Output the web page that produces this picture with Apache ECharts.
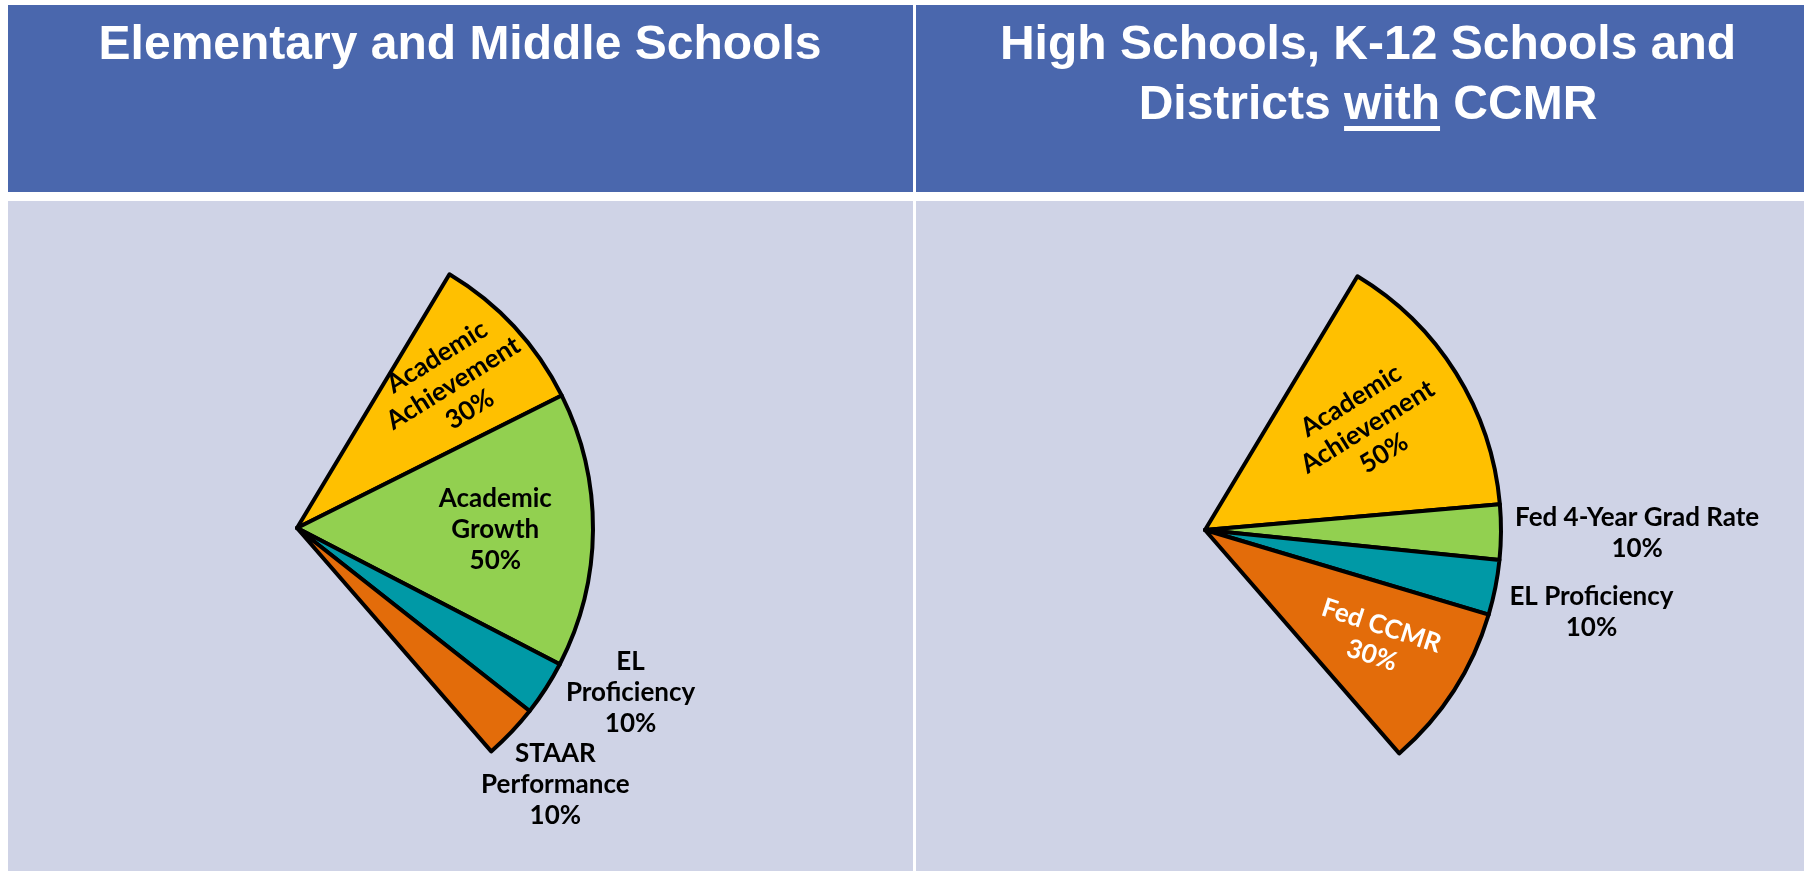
<!DOCTYPE html>
<html>
<head>
<meta charset="utf-8">
<title>Accountability component weights</title>
<script src="https://cdn.jsdelivr.net/npm/echarts@6/dist/echarts.min.js"></script>
<style>
  html, body { margin: 0; padding: 0; background: #fff; }
  #chart { width: 1804px; height: 871px; }
</style>
</head>
<body>
<div id="chart"></div>
<script>
// data
const leftTitle = 'Elementary and Middle Schools';
const rightTitleLines = ['High Schools, K-12 Schools and', 'Districts ', 'with', ' CCMR'];
const leftLabels = ['Academic\nAchievement', 'Academic\nGrowth', 'EL\nProficiency', 'STAAR\nPerformance'];
const leftValues = [30, 50, 10, 10];
const rightLabels = ['Academic\nAchievement', 'Fed 4-Year Grad Rate', 'EL Proficiency', 'Fed CCMR'];
const rightValues = [50, 10, 10, 30];
const sliceColors = ['#FFC000', '#92D050', '#0099A6', '#E36C0A'];

// layout
const headerBlue = '#4A67AD';
const panelFill = '#CFD3E6';
const radius = 296;
const leftCenter = [297, 528];
const rightCenter = [1205, 530];
// per slice label: [distance as share of radius, turn in degrees, rotate, colour]
const leftSpots = [[0.72, 0, 32, '#000'], [0.67, 0, 0, '#000'], [1.257, -6.5, 0, '#000'], [1.23, 1.2, 0, '#000']];
const rightSpots = [[0.65, -0.4, 32, '#000'], [1.46, 0, 0, '#000'], [1.335, 0.85, 0, '#000'], [0.69, 0, -18, '#fff']];

function pieSeries(center, labels, values, spots) {
    return {
        type: 'pie',
        center: center,
        radius: radius,
        startAngle: 59,
        endAngle: -49,
        clockwise: true,
        avoidLabelOverlap: false,
        silent: true,
        animation: false,
        itemStyle: { borderColor: '#000', borderWidth: 4 },
        label: {
            position: 'inside',
            fontFamily: 'Lato',
            fontWeight: 'bold',
            fontSize: 26,
            lineHeight: 31,
            formatter: '{b}\n{c}%'
        },
        labelLine: { show: false },
        data: values.map((v, i) => ({
            value: v,
            name: labels[i],
            itemStyle: { color: sliceColors[i] },
            label: { rotate: spots[i][2], color: spots[i][3] }
        })),
        labelLayout: params => {
            const spot = spots[params.dataIndex];
            const rect = params.labelRect;
            const vx = rect.x + rect.width / 2 - center[0];
            const vy = rect.y + rect.height / 2 - center[1];
            const ang = Math.atan2(vy, vx) + spot[1] * Math.PI / 180;
            const dist = spot[0] * radius;
            return {
                x: center[0] + dist * Math.cos(ang),
                y: center[1] + dist * Math.sin(ang),
                align: 'center',
                verticalAlign: 'middle'
            };
        }
    };
}

// underline under "with"
const titleFont = 'bold 48px "Liberation Sans"';
const ctx = document.createElement('canvas').getContext('2d');
ctx.font = titleFont;
const rightTitleX = 1368;
const line2 = rightTitleLines[1] + rightTitleLines[2] + rightTitleLines[3];
const ulStart = rightTitleX - ctx.measureText(line2).width / 2 + ctx.measureText(rightTitleLines[1]).width;
const ulWidth = ctx.measureText(rightTitleLines[2]).width;

function titleText(x, y, text) {
    return {
        type: 'text',
        x: x,
        y: y,
        style: {
            text: text,
            fill: '#fff',
            fontSize: 48,
            fontWeight: 'bold',
            fontFamily: 'Liberation Sans',
            lineHeight: 60,
            align: 'center',
            verticalAlign: 'middle'
        }
    };
}

const chart = echarts.init(document.getElementById('chart'));
chart.setOption({
    backgroundColor: '#fff',
    animation: false,
    graphic: [
        { type: 'rect', shape: { x: 8, y: 5, width: 905, height: 187 }, style: { fill: headerBlue } },
        { type: 'rect', shape: { x: 916, y: 5, width: 888, height: 187 }, style: { fill: headerBlue } },
        { type: 'rect', shape: { x: 8, y: 201, width: 905, height: 670 }, style: { fill: panelFill } },
        { type: 'rect', shape: { x: 916, y: 201, width: 888, height: 670 }, style: { fill: panelFill } },
        titleText(460, 46, leftTitle),
        titleText(rightTitleX, 76, rightTitleLines[0] + '\n' + line2),
        { type: 'rect', shape: { x: ulStart, y: 126, width: ulWidth, height: 5 }, style: { fill: '#fff' } }
    ],
    series: [
        pieSeries(leftCenter, leftLabels, leftValues, leftSpots),
        pieSeries(rightCenter, rightLabels, rightValues, rightSpots)
    ]
});
</script>
</body>
</html>
